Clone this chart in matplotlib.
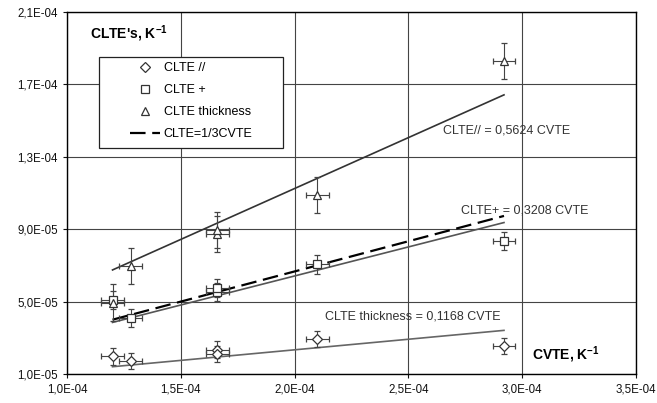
import matplotlib.pyplot as plt
from matplotlib.ticker import FuncFormatter, MultipleLocator
from matplotlib.patches import Rectangle

plt.rcParams['font.family'] = ['Liberation Sans', 'DejaVu Sans']
plt.rcParams['mathtext.fontset'] = 'custom'
plt.rcParams['mathtext.rm'] = 'Liberation Sans'
plt.rcParams['mathtext.bf'] = 'Liberation Sans:bold'

# measured points (CVTE, CLTE), K^-1
x_par = [1.20e-4, 1.28e-4, 1.66e-4, 1.66e-4, 2.10e-4, 2.92e-4]
y_par = [1.97e-5, 1.72e-5, 2.35e-5, 2.12e-5, 2.95e-5, 2.55e-5]
x_plus = [1.20e-4, 1.28e-4, 1.66e-4, 1.66e-4, 2.10e-4, 2.92e-4]
y_plus = [5.10e-5, 4.08e-5, 5.55e-5, 5.75e-5, 7.05e-5, 8.35e-5]
x_thick = [1.20e-4, 1.28e-4, 1.66e-4, 1.66e-4, 2.10e-4, 2.92e-4]
y_thick = [4.95e-5, 6.95e-5, 8.75e-5, 8.95e-5, 1.09e-4, 1.83e-4]

xerr = 5e-6
yerr_par = 4.5e-6
yerr_plus = 5e-6
yerr_thick = 1e-5

# linear fits through the origin
fit_x = [1.20e-4, 2.92e-4]
slope_top = 0.5624
slope_mid = 0.3208
slope_low = 0.1168
slope_ref = 1 / 3

fig = plt.figure(figsize=(6.57, 4.03), dpi=100)
ax = fig.add_axes([67 / 657, 1 - 374 / 403, 569 / 657, 362 / 403])

ax.set_xlim(1e-4, 3.5e-4)
ax.set_ylim(1e-5, 2.1e-4)
ax.xaxis.set_major_locator(MultipleLocator(5e-5))
ax.yaxis.set_major_locator(MultipleLocator(4e-5, offset=1e-5))
fmt = FuncFormatter(lambda v, p: f"{v:.1E}".replace('.', ','))
ax.xaxis.set_major_formatter(fmt)
ax.yaxis.set_major_formatter(fmt)
ax.tick_params(direction='out', length=3, width=0.8, labelsize=8.3, colors='#111')
ax.grid(True, color='#444', linewidth=0.8)
ax.set_axisbelow(True)
for s in ax.spines.values():
    s.set_linewidth(1.0)
    s.set_color('black')

ax.plot(fit_x, [slope_top * v for v in fit_x], color='#333', lw=1.2)
ax.plot(fit_x, [slope_mid * v for v in fit_x], color='#555', lw=1.2)
ax.plot(fit_x, [slope_low * v for v in fit_x], color='#666', lw=1.2)
ref, = ax.plot(fit_x, [slope_ref * v for v in fit_x], color='black', lw=1.6,
               dashes=(7, 3), label='CLTE=1/3CVTE')

ekw = dict(ls='none', color='#333', ecolor='#444', elinewidth=0.8, capsize=2,
           markerfacecolor='white', markeredgecolor='#333', markeredgewidth=0.9)
p1 = ax.errorbar(x_par, y_par, xerr=xerr, yerr=yerr_par, marker='D', ms=5, label='CLTE //', **ekw)
p2 = ax.errorbar(x_plus, y_plus, xerr=xerr, yerr=yerr_plus, marker='s', ms=5.5, label='CLTE +', **ekw)
p3 = ax.errorbar(x_thick, y_thick, xerr=xerr, yerr=yerr_thick, marker='^', ms=6, label='CLTE thickness', **ekw)

ax.text(2.652e-4, 1.444e-4, 'CLTE// = 0,5624 CVTE', fontsize=9, color='#333', va='center')
ax.text(2.73e-4, 1.006e-4, 'CLTE+ = 0,3208 CVTE', fontsize=9, color='#333', va='center')
ax.text(2.134e-4, 4.2e-5, 'CLTE thickness = 0,1168 CVTE', fontsize=9, color='#333', va='center')

fig.text(90 / 657, 1 - 34 / 403, r"CLTE's, K$^{\mathbf{-1}}$", fontsize=10, fontweight='bold', va='center')
fig.text(532 / 657, 1 - 355 / 403, r"CVTE, K$^{\mathbf{-1}}$", fontsize=10, fontweight='bold', va='center')

# legend box
fig.patches.append(Rectangle((99 / 657, 1 - 148 / 403), 184 / 657, 91 / 403,
                             transform=fig.transFigure, facecolor='white',
                             edgecolor='#222', lw=0.9, zorder=5))
leg = fig.legend([p1[0], p2[0], p3[0], ref], ['CLTE //', 'CLTE +', 'CLTE thickness', 'CLTE=1/3CVTE'],
                 loc='upper left', bbox_to_anchor=(130 / 657, 1 - 62 / 403), frameon=False,
                 borderpad=0, borderaxespad=0, fontsize=9, handlelength=2.4,
                 handletextpad=0.3, labelspacing=0.8)
leg.set_zorder(6)

fig.savefig('out.png', dpi=100)
